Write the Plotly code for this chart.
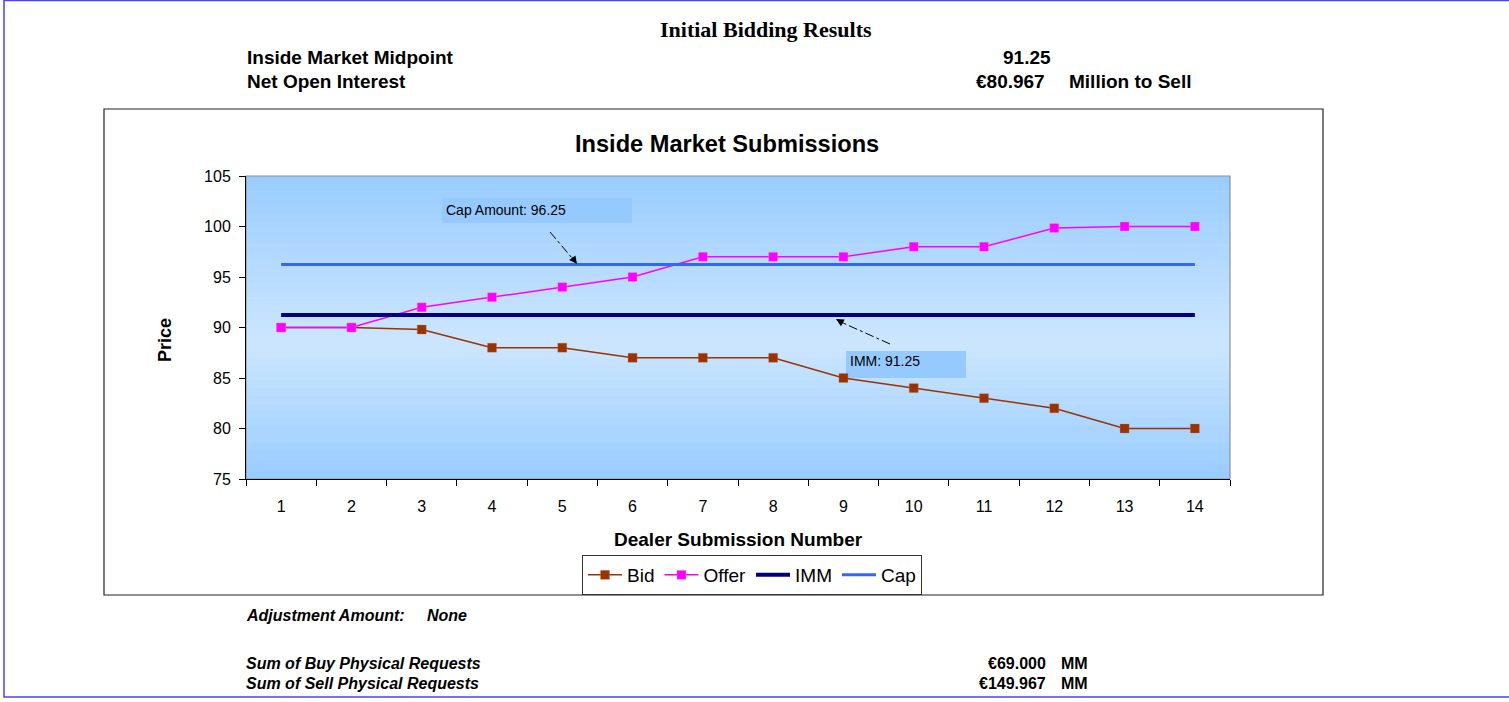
import plotly.graph_objects as go

W, H = 1509, 702

dealers = list(range(1, 15))
bid = [90, 90, 89.8, 88, 88, 87, 87, 87, 85, 84, 83, 82, 80, 80]
offer = [90, 90, 92, 93, 94, 95, 97, 97, 97, 98, 98, 99.85, 100, 100]
imm_value = 91.25
cap_value = 96.25
imm = [imm_value] * len(dealers)
cap = [cap_value] * len(dealers)

def px(x):
    return x / W

def py(y):
    return 1 - y / H

PLOT_L, PLOT_R, PLOT_T, PLOT_B = 246, 1230, 176, 479
SANS = "Liberation Sans, Arial, sans-serif"

fig = go.Figure()
fig.add_trace(go.Scatter(x=dealers, y=bid, name="Bid", mode="lines+markers",
                         line=dict(color="#993300", width=1.5),
                         marker=dict(symbol="square", size=9, color="#993300",
                                     line=dict(color="rgba(200,120,90,0.6)", width=0.5))))
fig.add_trace(go.Scatter(x=dealers, y=offer, name="Offer", mode="lines+markers",
                         line=dict(color="#FF00FF", width=1.5),
                         marker=dict(symbol="square", size=9, color="#FF00FF",
                                     line=dict(color="rgba(255,150,255,0.6)", width=0.5))))
fig.add_trace(go.Scatter(x=dealers, y=imm, name="IMM", mode="lines",
                         line=dict(color="#000080", width=4)))
fig.add_trace(go.Scatter(x=dealers, y=cap, name="Cap", mode="lines",
                         line=dict(color="#3366FF", width=3)))

shapes = []
# page border
shapes.append(dict(type="rect", xref="paper", yref="paper",
                   x0=px(4), x1=px(1512), y0=py(697), y1=py(0.5),
                   line=dict(color="#4444FF", width=1.5), layer="below"))
# chart area box
shapes.append(dict(type="rect", xref="paper", yref="paper",
                   x0=px(104), x1=px(1323), y0=py(595), y1=py(109),
                   line=dict(color="#222222", width=1.2), fillcolor="white", layer="below"))
# gradient background bands
n = 40
top_c = (153, 204, 255)
mid_c = (204, 230, 255)
mid_frac = 0.55
for i in range(n):
    f0 = i / n
    f1 = (i + 1) / n
    fc = (f0 + f1) / 2
    if fc < mid_frac:
        t = fc / mid_frac
    else:
        t = (1 - fc) / (1 - mid_frac)
    c = tuple(int(round(top_c[k] + (mid_c[k] - top_c[k]) * t)) for k in range(3))
    y0 = PLOT_T + (PLOT_B - PLOT_T) * f0
    y1 = PLOT_T + (PLOT_B - PLOT_T) * f1 + 0.6
    shapes.append(dict(type="rect", xref="paper", yref="paper",
                       x0=px(PLOT_L), x1=px(PLOT_R), y0=py(y1), y1=py(y0),
                       line=dict(width=0), fillcolor="rgb(%d,%d,%d)" % c, layer="below"))
# plot area border (gray top/right)
shapes.append(dict(type="rect", xref="paper", yref="paper",
                   x0=px(PLOT_L), x1=px(PLOT_R), y0=py(PLOT_B), y1=py(PLOT_T),
                   line=dict(color="#909090", width=1.2), layer="below"))
# annotation boxes
shapes.append(dict(type="rect", xref="paper", yref="paper",
                   x0=px(442), x1=px(632), y0=py(223), y1=py(198),
                   line=dict(width=0), fillcolor="rgb(150,202,255)", layer="below"))
shapes.append(dict(type="rect", xref="paper", yref="paper",
                   x0=px(846), x1=px(966), y0=py(378), y1=py(351),
                   line=dict(width=0), fillcolor="rgb(150,202,255)", layer="below"))
# dash-dot arrow lines
shapes.append(dict(type="line", xref="paper", yref="paper",
                   x0=px(550), y0=py(232), x1=px(572), y1=py(258),
                   line=dict(color="black", width=1, dash="dashdot")))
shapes.append(dict(type="line", xref="paper", yref="paper",
                   x0=px(890), y0=py(344), x1=px(843), y1=py(323),
                   line=dict(color="black", width=1, dash="dashdot")))

ann = []
def txt(x, y, s, size=14, bold=True, italic=False, anchor="left", family=SANS, angle=0):
    t = s
    if bold:
        t = "<b>" + t + "</b>"
    if italic:
        t = "<i>" + t + "</i>"
    ann.append(dict(x=px(x), y=py(y), xref="paper", yref="paper", text=t, showarrow=False,
                    xanchor=anchor, yanchor="middle", textangle=angle,
                    font=dict(family=family, size=size, color="black")))

txt(766, 29, "Initial Bidding Results", size=22, family="Liberation Serif, Times New Roman, serif", anchor="center")
txt(245, 58, "Inside Market Midpoint", size=19)
txt(1053, 58, "91.25", size=19, anchor="right")
txt(245, 81, "Net Open Interest", size=19)
txt(1047, 81, "€80.967", size=19, anchor="right")
txt(1067, 81, "Million to Sell", size=19)
txt(727, 144, "Inside Market Submissions", size=23.6, anchor="center")
txt(738, 539, "Dealer Submission Number", size=19, anchor="center")
txt(165, 340, "Price", size=18, anchor="center", angle=-90)
txt(244, 615, "Adjustment Amount:", size=16, italic=True)
txt(425, 615, "None", size=16, italic=True)
txt(244, 663, "Sum of Buy Physical Requests", size=16, italic=True)
txt(1048, 663, "€69.000", size=16, anchor="right")
txt(1059, 663, "MM", size=16)
txt(244, 683, "Sum of Sell Physical Requests", size=16, italic=True)
txt(1048, 683, "€149.967", size=16, anchor="right")
txt(1059, 683, "MM", size=16)

ann.append(dict(x=px(444), y=py(210), xref="paper", yref="paper", text="Cap Amount: " + str(cap_value),
                showarrow=False, xanchor="left", yanchor="middle",
                font=dict(family=SANS, size=14, color="black")))
ann.append(dict(x=px(848), y=py(361), xref="paper", yref="paper", text="IMM: " + str(imm_value),
                showarrow=False, xanchor="left", yanchor="middle",
                font=dict(family=SANS, size=14, color="black")))
# arrow heads
ann.append(dict(x=px(577), y=py(264), xref="paper", yref="paper", text="", showarrow=True,
                arrowhead=2, arrowsize=1.3, arrowwidth=1.2, arrowcolor="black", ax=-6, ay=-8))
ann.append(dict(x=px(836), y=py(319), xref="paper", yref="paper", text="", showarrow=True,
                arrowhead=2, arrowsize=1.3, arrowwidth=1.2, arrowcolor="black", ax=9, ay=5))

fig.update_layout(
    width=W, height=H,
    margin=dict(l=0, r=0, t=0, b=0, autoexpand=False),
    paper_bgcolor="white",
    plot_bgcolor="rgba(0,0,0,0)",
    shapes=shapes,
    annotations=ann,
    showlegend=True,
    legend=dict(orientation="h", x=px(752), y=py(575), xanchor="center", yanchor="middle",
                bordercolor="#333333", borderwidth=1, bgcolor="white",
                font=dict(family=SANS, size=19, color="black"),
                itemwidth=34, tracegroupgap=0),
    xaxis=dict(domain=[px(PLOT_L), px(PLOT_R)], range=[0.5, 14.5], automargin=False,
               tickmode="array", tickvals=dealers, ticktext=[str(d) for d in dealers],
               showgrid=False, zeroline=False, showline=True, linecolor="black", linewidth=1,
               ticks="", ticklabelstandoff=13,
               tickfont=dict(family=SANS, size=16, color="black")),
    xaxis2=dict(domain=[px(PLOT_L), px(PLOT_R)], range=[0.5, 14.5], overlaying="x", anchor="y",
                automargin=False,
                tickmode="array", tickvals=[i + 0.5 for i in range(0, 15)], ticks="outside",
                ticklen=6, tickcolor="black", showticklabels=False, showgrid=False, zeroline=False,
                side="bottom"),
    yaxis=dict(domain=[py(PLOT_B), py(PLOT_T)], range=[75, 105], dtick=5, automargin=False,
               showgrid=False, zeroline=False, showline=True, linecolor="black", linewidth=1,
               ticks="outside", ticklen=6, tickcolor="black", ticklabelstandoff=5,
               tickfont=dict(family=SANS, size=16, color="black")),
)
fig.add_trace(go.Scatter(x=[1], y=[75], xaxis="x2", yaxis="y", mode="markers",
                         marker=dict(opacity=0), showlegend=False, hoverinfo="skip"))

fig.write_html("out.html", config={"displayModeBar": False},
               post_script="document.body.style.margin='0';")
